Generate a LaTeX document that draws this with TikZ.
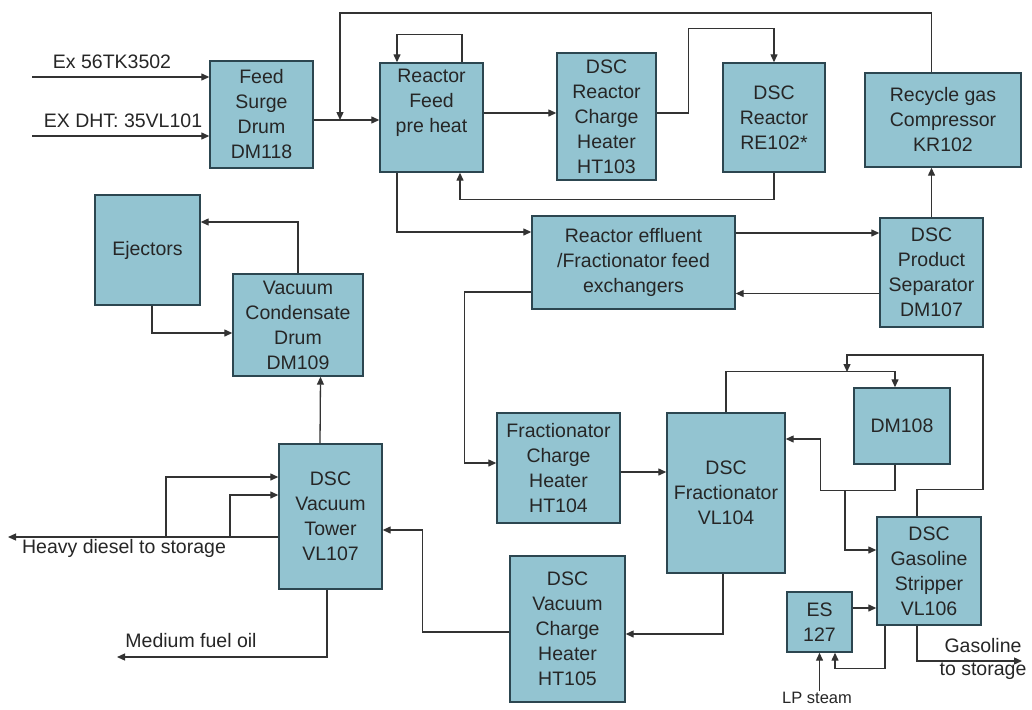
\documentclass[tikz,border=0pt]{standalone}
\usepackage{fontspec}
\setmainfont{Liberation Sans}
\usepackage{xcolor}
\usepackage{tikz}
\usetikzlibrary{arrows.meta, positioning, calc}
\definecolor{unitfill}{HTML}{93C4D1}
\definecolor{unitline}{HTML}{2C4650}
\definecolor{pipe}{HTML}{333333}

\begin{document}
\begin{tikzpicture}[
    x=1pt, y=-1pt,
    >={Triangle[length=8pt,width=7pt]},
    unit/.style 2 args={rectangle, draw=unitline, fill=unitfill, line width=1.4pt, inner sep=0pt, align=center, text=black!85, font=\fontsize{19.5}{25}\selectfont, minimum width=#1pt, minimum height=#2pt},
    flow/.style={draw=pipe, line width=1.3pt},
    tag/.style={inner sep=0pt, text=black!85, font=\fontsize{19.5}{23}\selectfont},
]

\fill[white] (0,0) rectangle (1032,709);
\useasboundingbox (0,0) rectangle (1032,709);

% units
\node[unit={103}{107}] (surge) at (261.5,114.5) {Feed\\Surge\\Drum\\DM118};
\node[unit={103}{109}] (preheat) at (431.5,117.5) {Reactor\\Feed\\pre heat\\\strut};
\node[unit={99}{127}] (charge) at (606.5,116.5) {DSC\\Reactor\\Charge\\Heater\\HT103};
\node[unit={102}{109}] (reactor) at (774,117.5) {DSC\\Reactor\\RE102*};
\node[unit={156}{94}] (compressor) at (943,120) {Recycle gas\\Compressor\\KR102};
\node[unit={105}{110}] (ejectors) at (147.5,250) {Ejectors};
\node[unit={130}{102}] (condensate) at (298,325) {Vacuum\\Condensate\\Drum\\DM109};
\node[unit={203}{93}] (exchanger) at (633.5,262.5) {Reactor effluent\\/Fractionator feed\\exchangers};
\node[unit={103}{109}] (separator) at (931.5,272.5) {DSC\\Product\\Separator\\DM107};
\node[unit={123}{110}] (fracheater) at (558.5,468) {Fractionator\\Charge\\Heater\\HT104};
\node[unit={118}{160}] (fractionator) at (726,493) {DSC\\Fractionator\\VL104};
\node[unit={96}{76}] (dm108) at (902,426) {DM108};
\node[unit={104}{108}] (stripper) at (929,571) {DSC\\Gasoline\\Stripper\\VL106};
\node[unit={65}{60}] (es127) at (819.5,622) {ES\\127};
\node[unit={115}{146}] (vacheater) at (567.5,629) {DSC\\Vacuum\\Charge\\Heater\\HT105};
\node[unit={103}{145}] (vactower) at (330.5,516.5) {DSC\\Vacuum\\Tower\\VL107};

% free ends
\coordinate (exin1) at (32,77);
\coordinate (exin2) at (32,136);
\coordinate (mix) at (340,120);
\coordinate (split) at (845,490);
\coordinate (ovhd) at (847,372);
\coordinate (gasout) at (1022,661);
\coordinate (hdout) at (8,537);
\coordinate (hdtap1) at (166,537);
\coordinate (hdtap2) at (230,537);
\coordinate (mfoout) at (117,657);

% feed section
\draw[flow,->] (exin1) -- (exin1 -| surge.west);
\node[tag, anchor=base] (lblex1) at (112,68) {Ex 56TK3502};
\draw[flow,->] (exin2) -- (exin2 -| surge.west);
\node[tag, anchor=base] (lblex2) at (123,127) {EX DHT: 35VL101};
\draw[flow,->] ($(surge.east)+(0,5.5)$) -- ($(preheat.west)+(0,2.5)$);
\draw[flow,->] (separator.north |- compressor.north) |- ($(mix)+(0,-107)$) -- (mix);
\draw[flow,->] (separator.north) -- (separator.north |- compressor.south);
\draw[flow,->] ($(preheat.north)+(30.5,0)$) -- ++(0,-28) -| ($(preheat.north)+(-34.5,0)$);

% reactor loop
\draw[flow,->] ($(preheat.east)+(0,-4.5)$) -- ($(charge.west)+(0,-3.5)$);
\draw[flow,->] ($(charge.east)+(0,-3.5)$) -- ++(32,0) |- ($(reactor.north)+(0,-34)$) -- (reactor.north);
\draw[flow,->] (reactor.south) -- ++(0,27) -| ($(preheat.south)+(28.5,0)$);
\draw[flow,->] ($(preheat.south)+(-34.5,0)$) |- ($(exchanger.west)+(0,-30.5)$);
\draw[flow,->] ($(exchanger.east)+(0,-29.5)$) -- ($(separator.west)+(0,-39.5)$);
\draw[flow,->] ($(separator.west)+(0,21)$) -- ($(exchanger.east)+(0,31)$);

% fractionation
\draw[flow,->] ($(exchanger.west)+(0,29.5)$) -- ++(-67,0) |- ($(fracheater.west)+(0,-5)$);
\draw[flow,->] ($(fracheater.east)+(0,4)$) -- ($(fractionator.west)+(0,-21)$);
\draw[flow,->] (fractionator.north) -- ++(0,-41) -| ($(dm108.north)+(-7,0)$);
\draw[flow,->] ($(stripper.north)+(-12,0)$) -- ++(0,-27) -- ++(66,0) |- ($(ovhd)+(0,-17)$) -- (ovhd);
\draw[flow,->] ($(dm108.south)+(-7,0)$) -- ++(0,26) -| ($(fractionator.east)+(35,-54)$) -- ($(fractionator.east)+(0,-54)$);
\draw[flow,->] (split) |- ($(stripper.west)+(0,-21)$);
\draw[flow,->] ($(es127.east)+(0,-14)$) -- ($(stripper.west)+(0,37)$);
\draw[flow,->] ($(stripper.south)+(-44,0)$) -- ++(0,43) -| ($(es127.south)+(15.5,0)$);
\node[tag, font=\fontsize{16.5}{20}\selectfont, anchor=base] (lpsteam) at (817,703) {LP steam};
\draw[flow,->] (lpsteam.north -| es127.south) -- (es127.south);
\draw[flow,->] ($(stripper.south)+(-12,0)$) |- (gasout);
\node[tag, align=center] (lblgas) at (983,659) {Gasoline\\to storage};

% vacuum section
\draw[flow,->] ($(fractionator.south)+(-3,0)$) |- ($(vacheater.east)+(0,5)$);
\draw[flow,->] ($(vacheater.west)+(0,3)$) -- ++(-87,0) |- ($(vactower.east)+(0,13.5)$);
\draw[flow,->] ($(vactower.north)+(-10.5,0)$) -- ($(condensate.south)+(22.5,0)$);
\draw[flow,->] (condensate.north) |- ($(ejectors.east)+(0,-28)$);
\draw[flow,->] ($(ejectors.south)+(4.5,0)$) |- ($(condensate.west)+(0,8)$);
\draw[flow,->] ($(vactower.west)+(0,20.5)$) -- (hdout);
\draw[flow,->] (hdtap1) |- ($(vactower.west)+(0,-39.5)$);
\draw[flow,->] (hdtap2) |- ($(vactower.west)+(0,-21.5)$);
\node[tag, anchor=base] (lblhd) at (124,553) {Heavy diesel to storage};
\draw[flow,->] ($(vactower.south)+(-3.5,0)$) |- (mfoout);
\node[tag, anchor=base] (lblmfo) at (191,647) {Medium fuel oil};

\end{tikzpicture}
\end{document}
